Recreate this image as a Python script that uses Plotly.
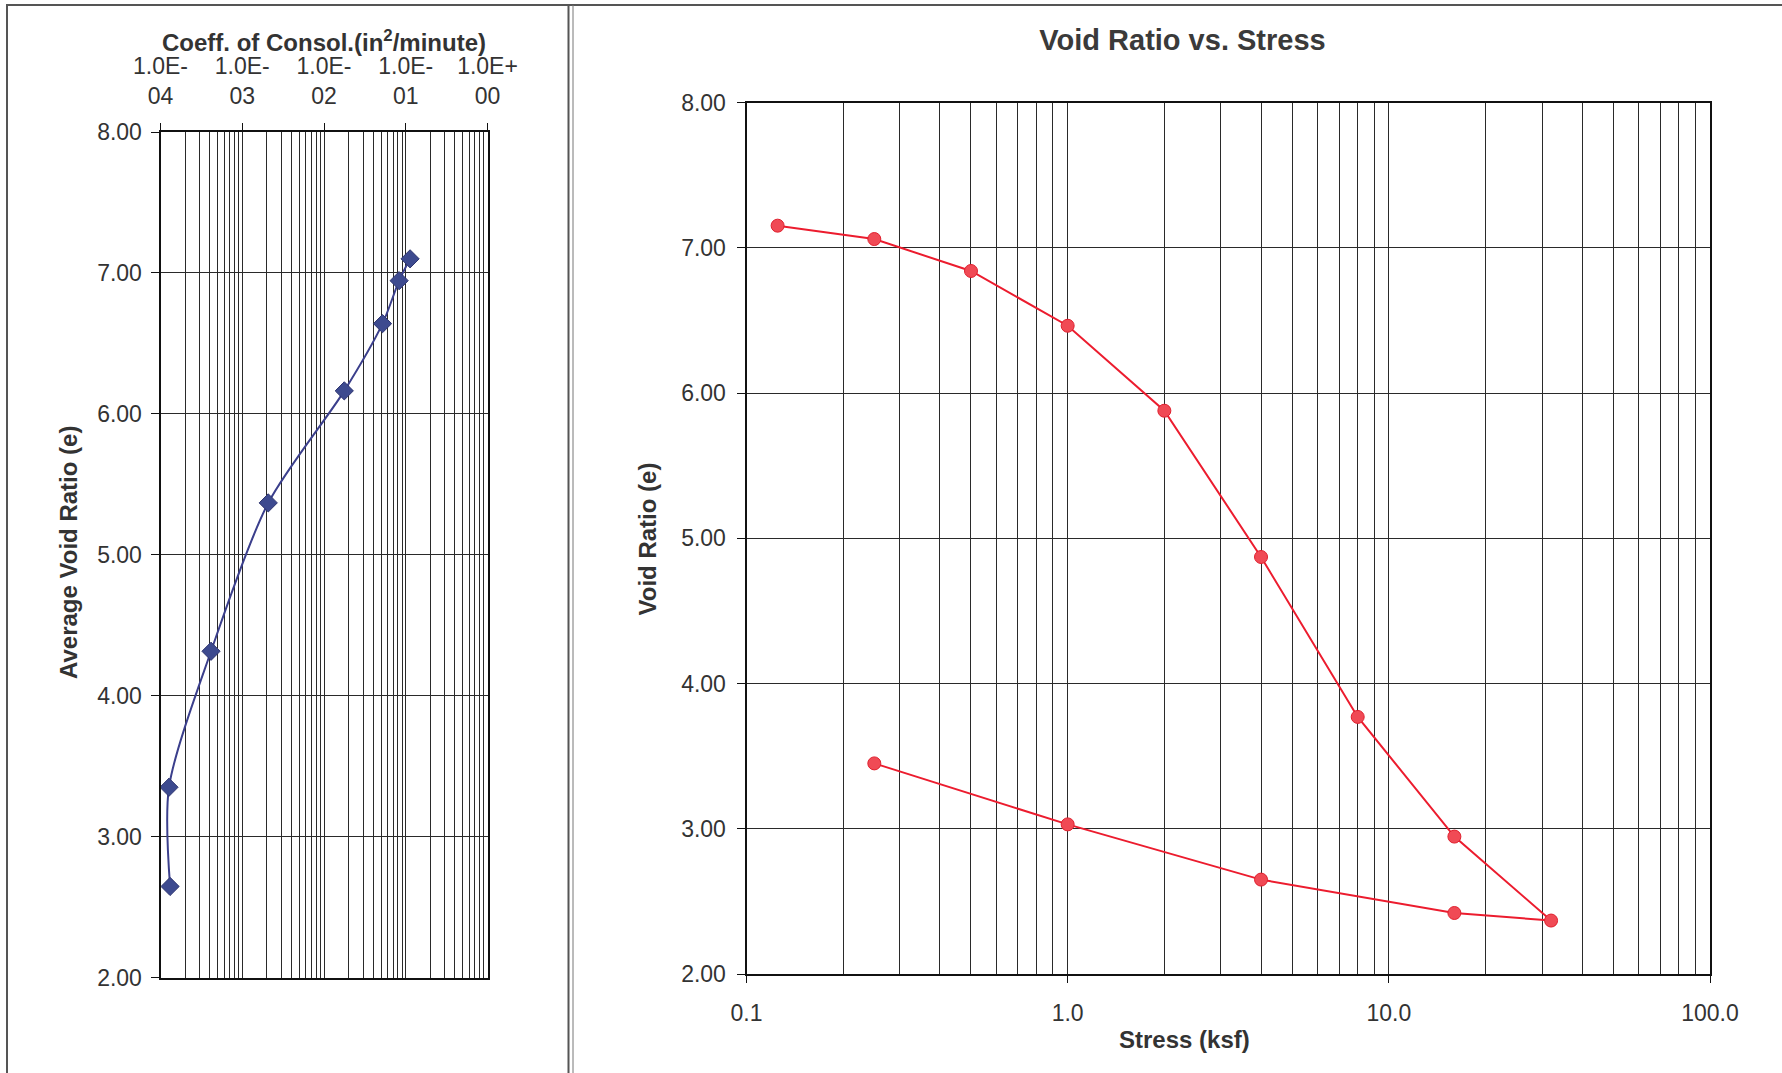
import plotly.graph_objects as go

# ---- Data: left chart (coefficient of consolidation vs average void ratio)
cv_values = [0.113, 0.083, 0.052, 0.0177, 0.00208, 0.000415, 0.000127, 0.000131]
avg_void_ratio = [7.10, 6.945, 6.64, 6.163, 5.368, 4.315, 3.35, 2.646]
cv_tick_vals = [1e-4, 1e-3, 1e-2, 1e-1, 1e0]
cv_tick_text = ["1.0E-<br>04", "1.0E-<br>03", "1.0E-<br>02", "1.0E-<br>01", "1.0E+<br>00"]

# ---- Data: right chart (void ratio vs stress)
stress_load = [0.125, 0.25, 0.5, 1.0, 2.0, 4.0, 8.0, 16.0, 32.0]
e_load = [7.152, 7.06, 6.84, 6.463, 5.878, 4.871, 3.77, 2.946, 2.368]
stress_unload = [16.0, 4.0, 1.0, 0.25]
e_unload = [2.42, 2.65, 3.03, 3.45]
stress_tick_vals = [0.1, 1, 10, 100]
stress_tick_text = ["0.1", "1.0", "10.0", "100.0"]
void_tick_vals = [2, 3, 4, 5, 6, 7, 8]

W, H = 1782, 1073
FONT = "Liberation Sans, Arial, sans-serif"
TXT = "#333333"
GRID = "#2a2a2a"


def minor_vals(lo_exp, hi_exp):
    out = []
    for p in range(lo_exp, hi_exp):
        for k in range(2, 10):
            out.append(k * 10 ** p)
    return out


fig = go.Figure()

fig.add_trace(go.Scatter(
    x=cv_values, y=avg_void_ratio, mode="lines+markers",
    line=dict(color="#3b3f8c", width=2, shape="spline", smoothing=0.8),
    marker=dict(symbol="diamond", size=14, color="#3d4a8f",
                line=dict(color="#2e3570", width=1)),
    xaxis="x", yaxis="y", showlegend=False))

fig.add_trace(go.Scatter(
    x=stress_load + stress_unload, y=e_load + e_unload, mode="lines+markers",
    line=dict(color="#ec1c2e", width=2),
    marker=dict(symbol="circle", size=13, color="#f04a55",
                line=dict(color="#e0202e", width=1)),
    xaxis="x2", yaxis="y2", showlegend=False))

tickfont = dict(family=FONT, size=23, color=TXT)

common_axis = dict(
    showline=True, linecolor="#111111", linewidth=2, mirror=True,
    showgrid=True, gridcolor=GRID, gridwidth=1, zeroline=False,
    ticks="outside", tickcolor="#111111", tickwidth=1,
    tickfont=tickfont, automargin=False,
)

fig.update_layout(
    width=W, height=H,
    margin=dict(l=0, r=0, t=0, b=0, pad=0, autoexpand=False),
    paper_bgcolor="white", plot_bgcolor="white",
    xaxis=dict(
        common_axis, type="log", range=[-4, 0],
        domain=[160.5 / W, 487.5 / W], side="top", anchor="y",
        tickmode="array", tickvals=cv_tick_vals, ticktext=cv_tick_text,
        ticklen=7, ticklabelstandoff=10,
        minor=dict(tickmode="array", tickvals=minor_vals(-4, 0),
                   showgrid=True, gridcolor=GRID, gridwidth=1, ticks=""),
    ),
    yaxis=dict(
        common_axis, range=[2, 8],
        domain=[1 - 977.5 / H, 1 - 132 / H], anchor="x",
        tickmode="array", tickvals=void_tick_vals, tickformat=".2f",
        ticklen=8, ticklabelstandoff=4,
    ),
    xaxis2=dict(
        common_axis, type="log", range=[-1, 2],
        domain=[746.5 / W, 1710 / W], anchor="y2",
        tickmode="array", tickvals=stress_tick_vals, ticktext=stress_tick_text,
        ticklen=7, ticklabelstandoff=10,
        minor=dict(tickmode="array", tickvals=minor_vals(-1, 2),
                   showgrid=True, gridcolor=GRID, gridwidth=1, ticks=""),
    ),
    yaxis2=dict(
        common_axis, range=[2, 8],
        domain=[1 - 974 / H, 1 - 102.5 / H], anchor="x2",
        tickmode="array", tickvals=void_tick_vals, tickformat=".2f",
        ticklen=8, ticklabelstandoff=6,
    ),
    title=dict(
        text="<b>Void Ratio vs. Stress</b>",
        x=1182.5 / W, y=1 - 40 / H, xref="paper", yref="paper",
        xanchor="center", yanchor="middle", automargin=False,
        font=dict(family=FONT, size=29, color="#3a3a3a"),
    ),
)

ann_font = dict(family=FONT, size=24, color="#333333")
fig.add_annotation(text="<b>Coeff. of Consol.(in<sup>2</sup>/minute)</b>",
                   x=324 / W, y=1 - 41 / H, xref="paper", yref="paper",
                   showarrow=False, font=ann_font, xanchor="center", yanchor="middle")
fig.add_annotation(text="<b>Average Void Ratio (e)</b>", textangle=-90,
                   x=68 / W, y=1 - 553 / H, xref="paper", yref="paper",
                   showarrow=False, font=ann_font, xanchor="center", yanchor="middle")
fig.add_annotation(text="<b>Stress (ksf)</b>",
                   x=1184.3 / W, y=1 - 1039 / H, xref="paper", yref="paper",
                   showarrow=False, font=ann_font, xanchor="center", yanchor="middle")
fig.add_annotation(text="<b>Void Ratio (e)</b>", textangle=-90,
                   x=647.8 / W, y=1 - 538.7 / H, xref="paper", yref="paper",
                   showarrow=False, font=ann_font, xanchor="center", yanchor="middle")

# Panel frames (scanned chart borders)
frame = dict(color="#555555", width=2)
fig.add_shape(type="line", xref="paper", yref="paper",
              x0=6 / W, x1=1, y0=1 - 5 / H, y1=1 - 5 / H, line=frame)
fig.add_shape(type="line", xref="paper", yref="paper",
              x0=7 / W, x1=7 / W, y0=0, y1=1 - 5 / H, line=frame)
fig.add_shape(type="line", xref="paper", yref="paper",
              x0=568.5 / W, x1=568.5 / W, y0=0, y1=1 - 5 / H, line=frame)
fig.add_shape(type="line", xref="paper", yref="paper",
              x0=573 / W, x1=573 / W, y0=0, y1=1 - 5 / H,
              line=dict(color="#777777", width=1))

fig.write_html("out.html", config={"displayModeBar": False},
               post_script="document.body.style.margin='0';")
